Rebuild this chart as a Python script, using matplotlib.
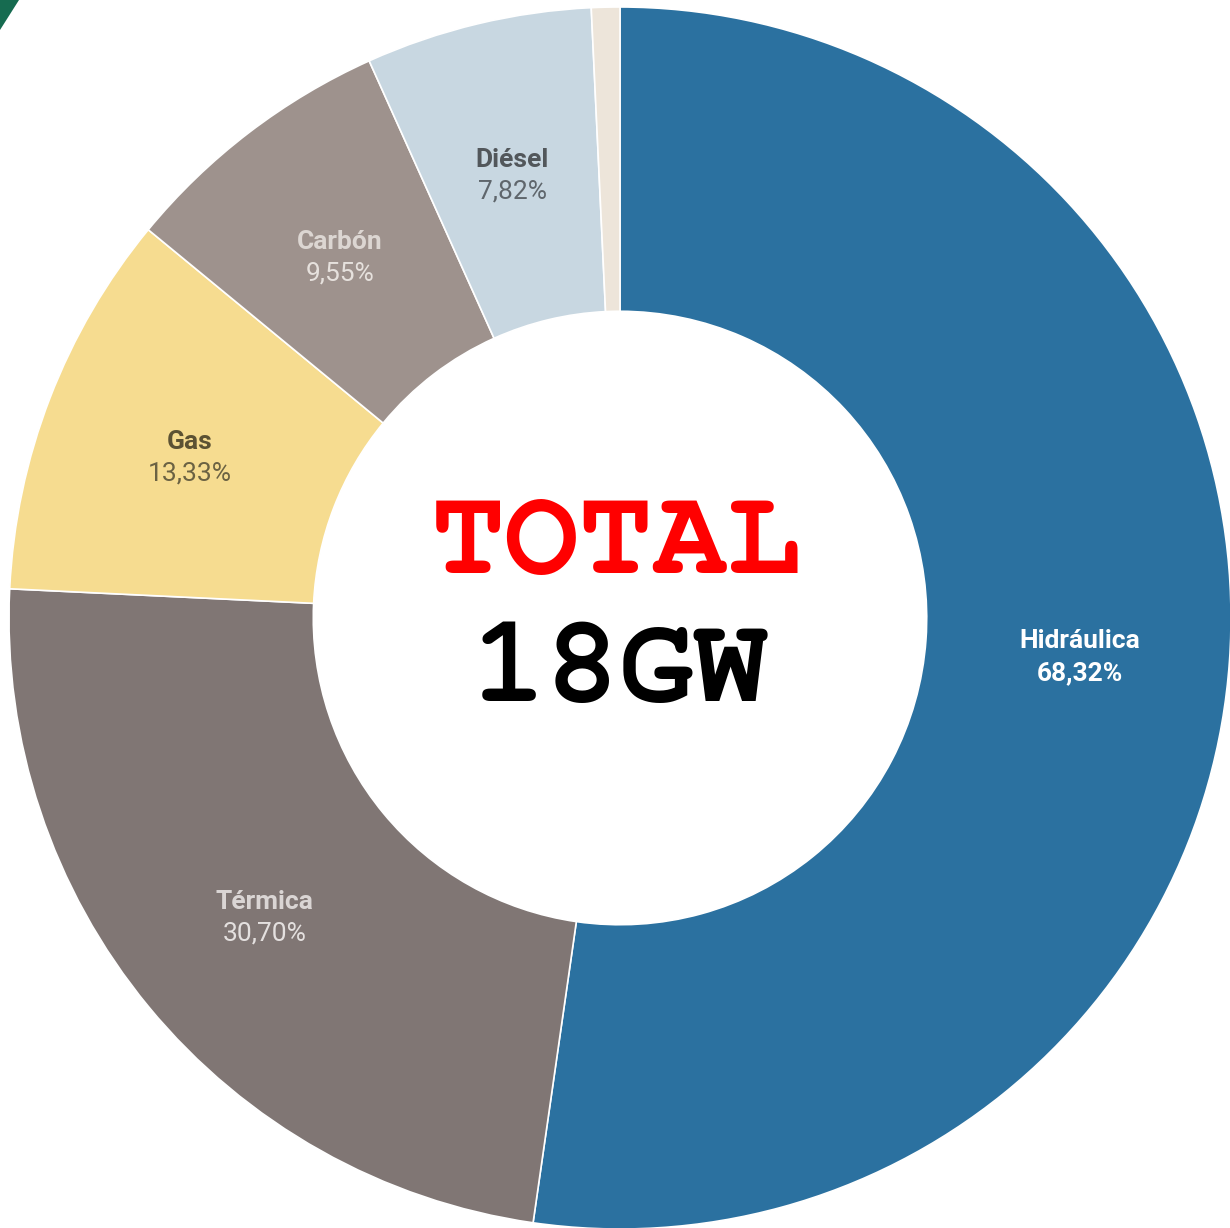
"""
Donut de capacidad instalada por fuente (total 18GW).
"""

import matplotlib.pyplot as plt
from matplotlib.patches import Polygon
import numpy as np

# Datos
fuentes = ['Hidráulica', 'Térmica', 'Gas', 'Carbón', 'Diésel', 'Otros']
valores = [68.32, 30.70, 13.33, 9.55, 7.82, 0.98]
etiquetas_pct = ['68,32%', '30,70%', '13,33%', '9,55%', '7,82%', '']
mostrar = [True, True, True, True, True, False]

titulo = 'TOTAL'
total = '18GW'

colores = ['#2b71a0', '#807674', '#f6dc90', '#9e928d', '#c8d7e1', '#ede5da']
color_nombre = ['#ffffff', '#dad5d4', '#5c5233', '#dcd6d2', '#52575b', '#000000']
color_pct = ['#ffffff', '#e4e0df', '#6b6243', '#e6e1dd', '#5f666c', '#000000']
peso_pct = ['bold', 'normal', 'normal', 'normal', 'normal', 'normal']

fig = plt.figure(figsize=(12.30, 12.28), dpi=100)
ax = fig.add_axes([0, 0, 1, 1])

wedges, _ = ax.pie(valores, colors=colores, startangle=90, counterclock=False,
                   radius=1.0,
                   wedgeprops=dict(width=0.498, edgecolor='white', linewidth=1.2))

# Etiquetas dentro del anillo
r_lab = 0.755
for w, nombre, pct, ok, cn, cp, wp in zip(wedges, fuentes, etiquetas_pct, mostrar,
                                           color_nombre, color_pct, peso_pct):
    if not ok:
        continue
    ang = np.deg2rad((w.theta1 + w.theta2) / 2)
    x, y = r_lab * np.cos(ang), r_lab * np.sin(ang)
    ax.text(x, y + 0.016, nombre, ha='center', va='center', fontsize=19,
            fontweight='bold', color=cn, family='Roboto')
    ax.text(x, y - 0.036, pct, ha='center', va='center', fontsize=19,
            fontweight=wp, color=cp, family='Roboto')

# Texto central (tipo máquina de escribir)
mono = ['Courier New', 'Nimbus Mono PS', 'Nimbus Mono L', 'FreeMono',
        'Courier', 'Liberation Mono']
px = 611.0
ax.text(-0.006, (618 - 573) / px, titulo, ha='center', va='baseline',
        fontsize=89, fontweight='bold', color='#ff0000', family=mono)
ax.text(0.0, (618 - 701) / px, total, ha='center', va='baseline',
        fontsize=89, fontweight='bold', color='black', family=mono)

# Encuadre: el anillo llena toda la imagen
ax.set_xlim(-620 / px, (1230 - 620) / px)
ax.set_ylim((618 - 1228) / px, 618 / px)
ax.set_aspect('auto')
ax.axis('off')

# Trozo verde de la esquina superior izquierda
fig.patches.append(Polygon([[0, 1], [19 / 1230, 1], [0, 1 - 30 / 1228]],
                           closed=True, transform=fig.transFigure,
                           facecolor='#166b50', edgecolor='none'))

fig.savefig('out.png', dpi=100)
